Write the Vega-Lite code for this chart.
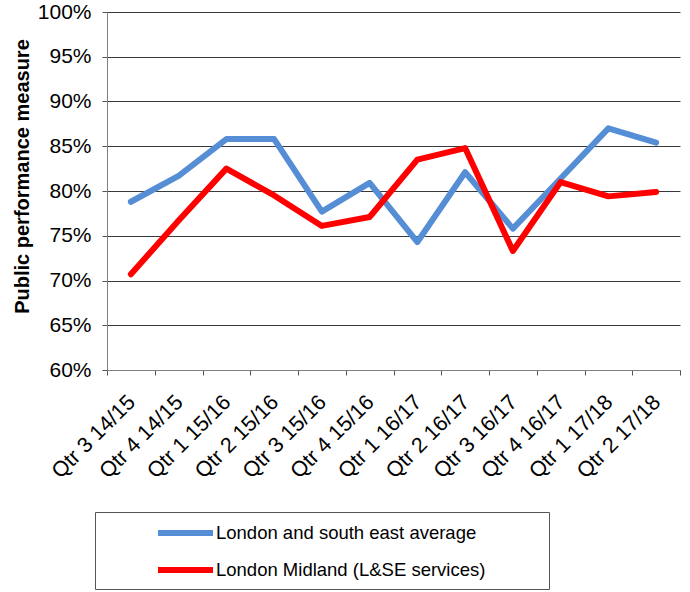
{
  "$schema": "https://vega.github.io/schema/vega-lite/v6.json",
  "autosize": "none",
  "width": 573,
  "height": 358,
  "padding": {"left": 107, "top": 12, "right": 10, "bottom": 222},
  "background": "white",
  "config": {
    "view": {"stroke": null},
    "font": "Liberation Sans"
  },
  "data": {
    "values": [
      {"quarter": "Qtr 3 14/15", "series": "London and south east average", "value": 0.788},
      {"quarter": "Qtr 4 14/15", "series": "London and south east average", "value": 0.817},
      {"quarter": "Qtr 1 15/16", "series": "London and south east average", "value": 0.858},
      {"quarter": "Qtr 2 15/16", "series": "London and south east average", "value": 0.858},
      {"quarter": "Qtr 3 15/16", "series": "London and south east average", "value": 0.777},
      {"quarter": "Qtr 4 15/16", "series": "London and south east average", "value": 0.809},
      {"quarter": "Qtr 1 16/17", "series": "London and south east average", "value": 0.743},
      {"quarter": "Qtr 2 16/17", "series": "London and south east average", "value": 0.821},
      {"quarter": "Qtr 3 16/17", "series": "London and south east average", "value": 0.758},
      {"quarter": "Qtr 4 16/17", "series": "London and south east average", "value": 0.814},
      {"quarter": "Qtr 1 17/18", "series": "London and south east average", "value": 0.870},
      {"quarter": "Qtr 2 17/18", "series": "London and south east average", "value": 0.854},
      {"quarter": "Qtr 3 14/15", "series": "London Midland (L&SE services)", "value": 0.707},
      {"quarter": "Qtr 4 14/15", "series": "London Midland (L&SE services)", "value": 0.767},
      {"quarter": "Qtr 1 15/16", "series": "London Midland (L&SE services)", "value": 0.825},
      {"quarter": "Qtr 2 15/16", "series": "London Midland (L&SE services)", "value": 0.795},
      {"quarter": "Qtr 3 15/16", "series": "London Midland (L&SE services)", "value": 0.761},
      {"quarter": "Qtr 4 15/16", "series": "London Midland (L&SE services)", "value": 0.771},
      {"quarter": "Qtr 1 16/17", "series": "London Midland (L&SE services)", "value": 0.835},
      {"quarter": "Qtr 2 16/17", "series": "London Midland (L&SE services)", "value": 0.848},
      {"quarter": "Qtr 3 16/17", "series": "London Midland (L&SE services)", "value": 0.733},
      {"quarter": "Qtr 4 16/17", "series": "London Midland (L&SE services)", "value": 0.810},
      {"quarter": "Qtr 1 17/18", "series": "London Midland (L&SE services)", "value": 0.794},
      {"quarter": "Qtr 2 17/18", "series": "London Midland (L&SE services)", "value": 0.799}
    ]
  },
  "mark": {"type": "line", "strokeWidth": 6, "strokeCap": "round", "strokeJoin": "round"},
  "encoding": {
    "x": {
      "field": "quarter",
      "type": "ordinal",
      "sort": ["Qtr 3 14/15", "Qtr 4 14/15", "Qtr 1 15/16", "Qtr 2 15/16", "Qtr 3 15/16", "Qtr 4 15/16", "Qtr 1 16/17", "Qtr 2 16/17", "Qtr 3 16/17", "Qtr 4 16/17", "Qtr 1 17/18", "Qtr 2 17/18"],
      "scale": {"type": "band", "paddingInner": 0, "paddingOuter": 0},
      "axis": {
        "title": null,
        "labelAngle": -45,
        "labelAlign": "right",
        "labelBaseline": "top",
        "labelFontSize": 21.5,
        "labelColor": "black",
        "labelPadding": 16,
        "labelOffset": -7,
        "labelOverlap": false,
        "labelBound": false,
        "tickBand": "extent",
        "tickSize": 5,
        "tickColor": "#555555",
        "domainColor": "#808080",
        "grid": false
      }
    },
    "y": {
      "field": "value",
      "type": "quantitative",
      "scale": {"domain": [0.6, 1.0], "nice": false, "zero": false},
      "axis": {
        "title": "Public performance measure",
        "titleFontSize": 20,
        "titleFontWeight": "bold",
        "titleColor": "black",
        "titleAngle": -90,
        "titleX": -85,
        "titleY": 164,
        "titleAlign": "center",
        "titleBaseline": "middle",
        "format": ".0%",
        "values": [0.6, 0.65, 0.7, 0.75, 0.8, 0.85, 0.9, 0.95, 1.0],
        "labelFontSize": 21,
        "labelColor": "black",
        "labelPadding": 11,
        "tickSize": 5,
        "tickColor": "#555555",
        "domainColor": "#808080",
        "grid": true,
        "gridColor": "#3a3a3a",
        "gridWidth": 1
      }
    },
    "color": {
      "field": "series",
      "type": "nominal",
      "sort": ["London and south east average", "London Midland (L&SE services)"],
      "scale": {"domain": ["London and south east average", "London Midland (L&SE services)"], "range": ["#558ED5", "#FF0000"]},
      "legend": {
        "title": null,
        "orient": "none",
        "legendX": -12,
        "legendY": 500,
        "direction": "vertical",
        "symbolType": "M-2.5,0H2.5",
        "symbolSize": 484,
        "symbolStrokeWidth": 6,
        "symbolOffset": 69.5,
        "labelFontSize": 18.5,
        "labelColor": "black",
        "labelLimit": 1000,
        "labelOffset": 16.5,
        "labelExpr": "datum.label + '\u00a0\u00a0\u00a0\u00a0\u00a0\u00a0\u00a0\u00a0\u00a0\u00a0\u00a0\u200b'",
        "strokeColor": "#555555",
        "fillColor": "white",
        "padding": 7,
        "rowPadding": 11
      }
    }
  }
}
